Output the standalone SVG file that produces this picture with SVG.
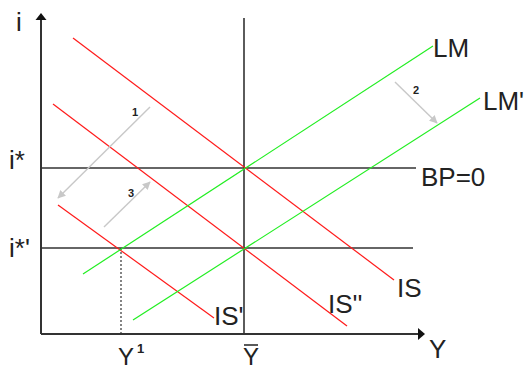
<svg xmlns="http://www.w3.org/2000/svg" width="525" height="372" viewBox="0 0 525 372">
<style>
.lbl{font-family:"Liberation Sans",Arial,sans-serif;font-size:26px;fill:#222}
.bot{font-size:24px}
.num{font-family:"Liberation Sans",Arial,sans-serif;font-size:11px;font-weight:bold;fill:#222}
.axis{stroke:#333;stroke-width:2;fill:none}
.h{stroke:#333;stroke-width:1.6;fill:none}
.is{stroke:#ff1a1a;stroke-width:1.2;fill:none}
.lm{stroke:#22ee22;stroke-width:1.2;fill:none}
.g{stroke:#c8c8c8;stroke-width:1.4;fill:none}
</style>
<defs>
<marker id="ah" viewBox="0 0 10 10" refX="9" refY="5" markerWidth="8" markerHeight="8" markerUnits="userSpaceOnUse" orient="auto"><path d="M0,0 L10,5 L0,10 z" fill="#c8c8c8"/></marker>
</defs>
<rect width="525" height="372" fill="#fff"/>
<g id="connectors">
<line class="axis" x1="41" y1="334" x2="41" y2="20"/>
<path d="M35.5,20 L41,13 L46.5,20 z" fill="#111"/>
<line class="axis" x1="41" y1="334" x2="418" y2="334"/>
<path d="M418,328 L425,334 L418,340 z" fill="#111"/>
<line class="h" x1="244" y1="18" x2="244" y2="334"/>
<line class="h" x1="41" y1="168" x2="416" y2="168"/>
<line class="h" x1="41" y1="248" x2="413" y2="248"/>
<line x1="121" y1="248" x2="121" y2="334" stroke="#333" stroke-width="1.2" stroke-dasharray="2,2"/>
<line class="is" x1="73" y1="38" x2="394" y2="280"/>
<line class="is" x1="53" y1="104" x2="347" y2="326"/>
<line class="is" x1="58" y1="205" x2="214" y2="318"/>
<line class="lm" x1="83" y1="274" x2="433" y2="46"/>
<line class="lm" x1="133" y1="320" x2="480" y2="98"/>
<line class="g" x1="150" y1="107" x2="58" y2="198" marker-end="url(#ah)"/>
<line class="g" x1="104" y1="227" x2="150" y2="182" marker-end="url(#ah)"/>
<line class="g" x1="395" y1="82" x2="437" y2="123" marker-end="url(#ah)"/>
<line x1="244" y1="345" x2="258" y2="345" stroke="#222" stroke-width="1.5"/>
</g>
<g id="labels">
<text class="lbl" x="16" y="31">i</text>
<text class="lbl" x="9" y="169">i*</text>
<text class="lbl" x="9" y="257">i*'</text>
<text class="lbl" x="433" y="57">LM</text>
<text class="lbl" x="483" y="110">LM'</text>
<text class="lbl" x="421" y="186">BP=0</text>
<text class="lbl" x="397" y="297">IS</text>
<text class="lbl" x="328" y="313">IS''</text>
<text class="lbl" x="214" y="325">IS'</text>
<text class="lbl" x="429" y="358">Y</text>
<text class="lbl bot" x="118" y="365">Y</text>
<text class="num" x="137" y="353" style="font-size:13px">1</text>
<text class="lbl bot" x="243" y="365">Y</text>
<text class="num" x="132" y="116">1</text>
<text class="num" x="413" y="94">2</text>
<text class="num" x="128" y="197">3</text>
</g>
</svg>
